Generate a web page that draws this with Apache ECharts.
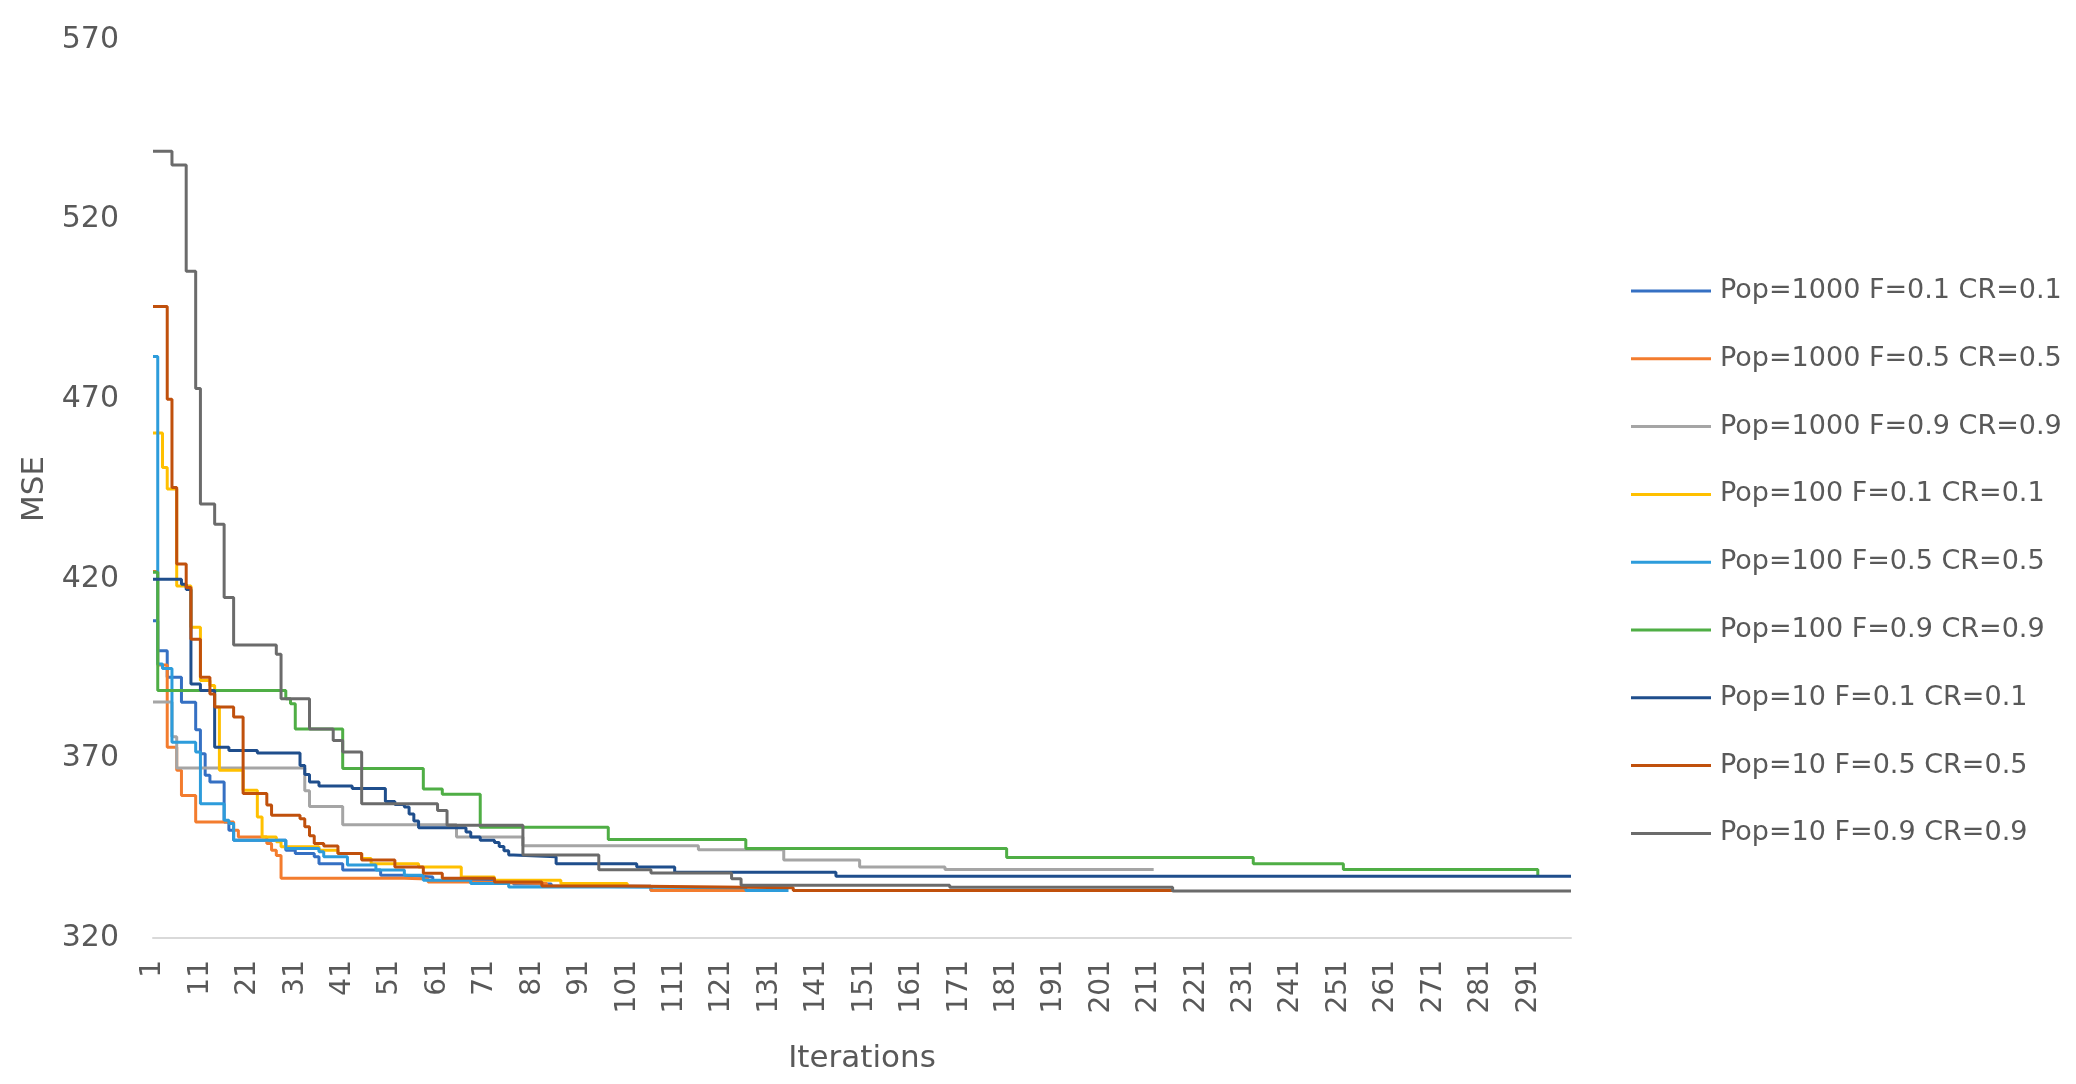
<!DOCTYPE html>
<html>
<head>
<meta charset="utf-8">
<title>MSE vs Iterations</title>
<script src="https://cdn.jsdelivr.net/npm/echarts@6/dist/echarts.min.js"></script>
<style>
  html, body { margin: 0; padding: 0; background: #fff; }
  #echarts-line-chart { width: 2076px; height: 1084px; }
</style>
</head>
<body>
<div id="echarts-line-chart"></div>
<script>
// y axis
var yMin = 320, yMax = 570, yStep = 50;
// iterations shown on the category axis
var iterCount = 300;
var iterations = [];
for (var k = 1; k <= iterCount; k++) iterations.push(String(k));

var seriesNames = [
  "Pop=1000 F=0.1 CR=0.1",
  "Pop=1000 F=0.5 CR=0.5",
  "Pop=1000 F=0.9 CR=0.9",
  "Pop=100 F=0.1 CR=0.1",
  "Pop=100 F=0.5 CR=0.5",
  "Pop=100 F=0.9 CR=0.9",
  "Pop=10 F=0.1 CR=0.1",
  "Pop=10 F=0.5 CR=0.5",
  "Pop=10 F=0.9 CR=0.9"
];
var seriesColors = ["#3570c3", "#f37c2e", "#a5a5a5", "#ffc000", "#2d9cdb", "#4fae45", "#1f4e8c", "#c0500c", "#6b6b6b"];

// [iteration, MSE] at each point where the best MSE changes
var pop1000_f01 = [[1,408.3],[2,400],[4,392.6],[7,385.6],[10,378],[11,371.3],[12,365.3],[13,363.4],[16,352.3],[17,350],[18,347.2],[29,344.4],[31,343.5],[35,342.6],[36,340.7],[41,338.9],[49,337.5],[54,337],[60,336],[77,335],[85,334.4],[106,333.2],[124,333.2]];
var pop1000_f05 = [[1,422],[2,396],[4,373.1],[6,366.7],[7,359.7],[10,352.3],[18,350],[19,348.1],[25,346.3],[26,344.4],[27,343],[28,336.6],[54,336.4],[59,335.6],[68,335.2],[84,334.4],[106,333.2],[130,333.2]];
var pop1000_f09 = [[1,385.7],[5,376],[6,367.3],[33,361],[34,356.6],[41,351.5],[65,348.1],[79,345.7],[116,344.6],[134,341.7],[150,339.8],[168,339.1],[212,339.1]];
var pop100_f01 = [[1,460.6],[3,451],[4,445],[6,418],[9,406.5],[11,391.7],[13,390.3],[14,384.3],[15,366.7],[20,361.1],[23,353.7],[24,348.1],[27,346.8],[28,345.4],[36,344.4],[40,343.5],[45,342.1],[47,340.7],[57,339.8],[66,337],[73,336.1],[87,335.2],[101,334.7]];
var pop100_f05 = [[1,481.9],[2,396.3],[3,395],[5,374.5],[10,371.8],[11,357.4],[16,352.8],[17,351.9],[18,347.2],[29,344.9],[36,344],[37,342.6],[42,340.3],[48,338.9],[54,337.5],[58,336.1],[68,335.2],[76,334.2],[97,334],[126,333.2],[135,333.2]];
var pop100_f09 = [[1,421.8],[2,388.9],[29,386.6],[30,385.2],[31,378.2],[41,367.2],[58,361.5],[62,360],[70,350.8],[97,347.4],[126,344.9],[181,342.4],[233,340.7],[252,339.1],[293,337.4]];
var pop10_f01 = [[1,419.9],[7,418.5],[8,417],[9,390.7],[11,388.9],[14,373.1],[17,372.2],[23,371.5],[32,368],[33,365.5],[34,363.4],[36,362.3],[43,361.6],[50,358],[52,357.2],[54,356.5],[55,354.5],[56,352.6],[57,350.7],[67,349.5],[68,348.1],[70,347.2],[73,346.6],[74,345.5],[75,344.3],[76,343.1],[77,342.6],[86,340.7],[103,339.8],[111,338.3],[145,337.2],[300,337.2]];
var pop10_f05 = [[1,495.8],[4,470],[5,445.4],[6,424.1],[8,417.6],[9,403.2],[11,392.6],[13,387.9],[14,384.3],[18,381.5],[20,360.2],[25,357],[26,354.2],[32,353.2],[33,351],[34,348.5],[35,346.3],[37,345.6],[40,343.5],[45,341.7],[52,339.8],[58,338],[62,336.6],[73,335.6],[83,334.5],[100,334],[136,333.2],[216,333.2]];
var pop10_f09 = [[1,539],[5,535.2],[8,505.6],[10,473],[11,440.8],[14,435.2],[16,414.8],[18,401.6],[27,399],[28,386.6],[34,378.2],[39,375],[41,371.8],[45,357.4],[61,355.5],[63,351.4],[79,343.1],[95,339],[106,338.1],[123,336.5],[125,334.7],[169,334.1],[216,333.1],[300,333.1]];

var seriesData = [pop1000_f01, pop1000_f05, pop1000_f09, pop100_f01, pop100_f05, pop100_f09, pop10_f01, pop10_f05, pop10_f09];

var chart = echarts.init(document.getElementById("echarts-line-chart"), null, { renderer: "canvas" });

var textColor = "#595959";
var font = "DejaVu Sans";

var series = [];
seriesNames.forEach(function (name, i) {
  series.push({
    name: name,
    type: "line",
    step: "end",
    showSymbol: false,
    symbol: "none",
    data: seriesData[i].map(function (p) { return [p[0] - 1, p[1]]; }),
    lineStyle: { width: 3, color: seriesColors[i] },
    itemStyle: { color: seriesColors[i] }
  });
});

var option = {
  animation: false,
  backgroundColor: "#ffffff",
  color: seriesColors,
  grid: {
    left: 153,
    right: 505,
    top: 40,
    bottom: 146
  },
  legend: {
    orient: "vertical",
    left: 1631,
    top: 276,
    padding: 0,
    itemGap: 37.8,
    itemWidth: 80,
    itemHeight: 3,
    icon: "rect",
    data: seriesNames,
    textStyle: {
      color: textColor,
      fontFamily: font,
      fontSize: 27,
      lineHeight: 30,
      padding: [0, 0, 0, 4]
    }
  },
  xAxis: {
    type: "category",
    data: iterations,
    boundaryGap: false,
    name: "Iterations",
    nameLocation: "middle",
    nameGap: 105,
    nameTextStyle: { color: textColor, fontFamily: font, fontSize: 31 },
    axisLine: { lineStyle: { color: "#d9d9d9", width: 2 } },
    axisTick: { show: false },
    axisLabel: {
      interval: 9,
      rotate: 90,
      margin: 22,
      color: textColor,
      fontFamily: font,
      fontSize: 28
    },
    splitLine: { show: false }
  },
  yAxis: {
    type: "value",
    min: yMin,
    max: yMax,
    interval: yStep,
    name: "MSE",
    nameLocation: "middle",
    nameGap: 103,
    nameTextStyle: { color: textColor, fontFamily: font, fontSize: 31 },
    axisLine: { show: false },
    axisTick: { show: false },
    axisLabel: {
      margin: 34,
      color: textColor,
      fontFamily: font,
      fontSize: 30
    },
    splitLine: { show: false }
  },
  series: series
};

chart.setOption(option);
window.addEventListener("resize", function () { chart.resize(); });
</script>
</body>
</html>
